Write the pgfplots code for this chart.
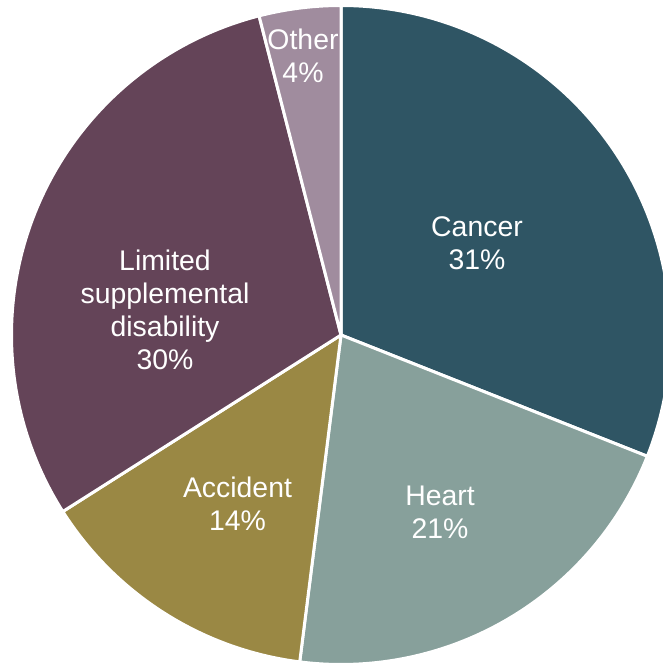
\documentclass[border=0pt]{standalone}
\usepackage{fontspec}
\setmainfont{Liberation Sans}
\usepackage{pgfplots}
\pgfplotsset{compat=1.18}
\definecolor{cCancer}{HTML}{2F5564}
\definecolor{cHeart}{HTML}{87A09B}
\definecolor{cAccident}{HTML}{9A8844}
\definecolor{cLimited}{HTML}{644458}
\definecolor{cOther}{HTML}{A08C9E}
\newcommand{\cx}{341}
\newcommand{\cy}{329}
\newcommand{\R}{329.5}
% #1 cumulative percent before slice, #2 slice percent, #3 colour
\newcommand{\slice}[3]{%
  \addplot[fill=#3, draw=white, line width=3bp, line join=round,
    domain={90-3.6*(#1)}:{90-3.6*(#1+#2)}, samples=200, variable=\t]
    ({\cx+\R*cos(\t)},{\cy+\R*sin(\t)}) -- (axis cs:\cx,\cy) -- cycle;
}
\begin{document}
\begin{tikzpicture}
\begin{axis}[hide axis, scale only axis, width=663bp, height=664bp,
  xmin=0, xmax=663, ymin=0, ymax=664, clip=true]
% values: Cancer 31, Heart 21, Accident 14, Limited supplemental disability 30, Other 4
\slice{0}{31}{cCancer}
\slice{31}{21}{cHeart}
\slice{52}{14}{cAccident}
\slice{66}{30}{cLimited}
\slice{96}{4}{cOther}
\tikzset{lbl/.style={text=white, align=center, font=\fontsize{28.5}{33}\selectfont, inner sep=0pt}}
\node[lbl] at (axis cs:477,420.5) {Cancer\\31\%};
\node[lbl] at (axis cs:440,151.5) {Heart\\21\%};
\node[lbl] at (axis cs:237.5,160) {Accident\\14\%};
\node[lbl] at (axis cs:165,354) {Limited\\supplemental\\disability\\30\%};
\node[lbl] at (axis cs:303,608) {Other\\4\%};
\end{axis}
\pgfresetboundingbox
\path (0,0) rectangle (663bp,664bp);
\end{tikzpicture}
\end{document}
